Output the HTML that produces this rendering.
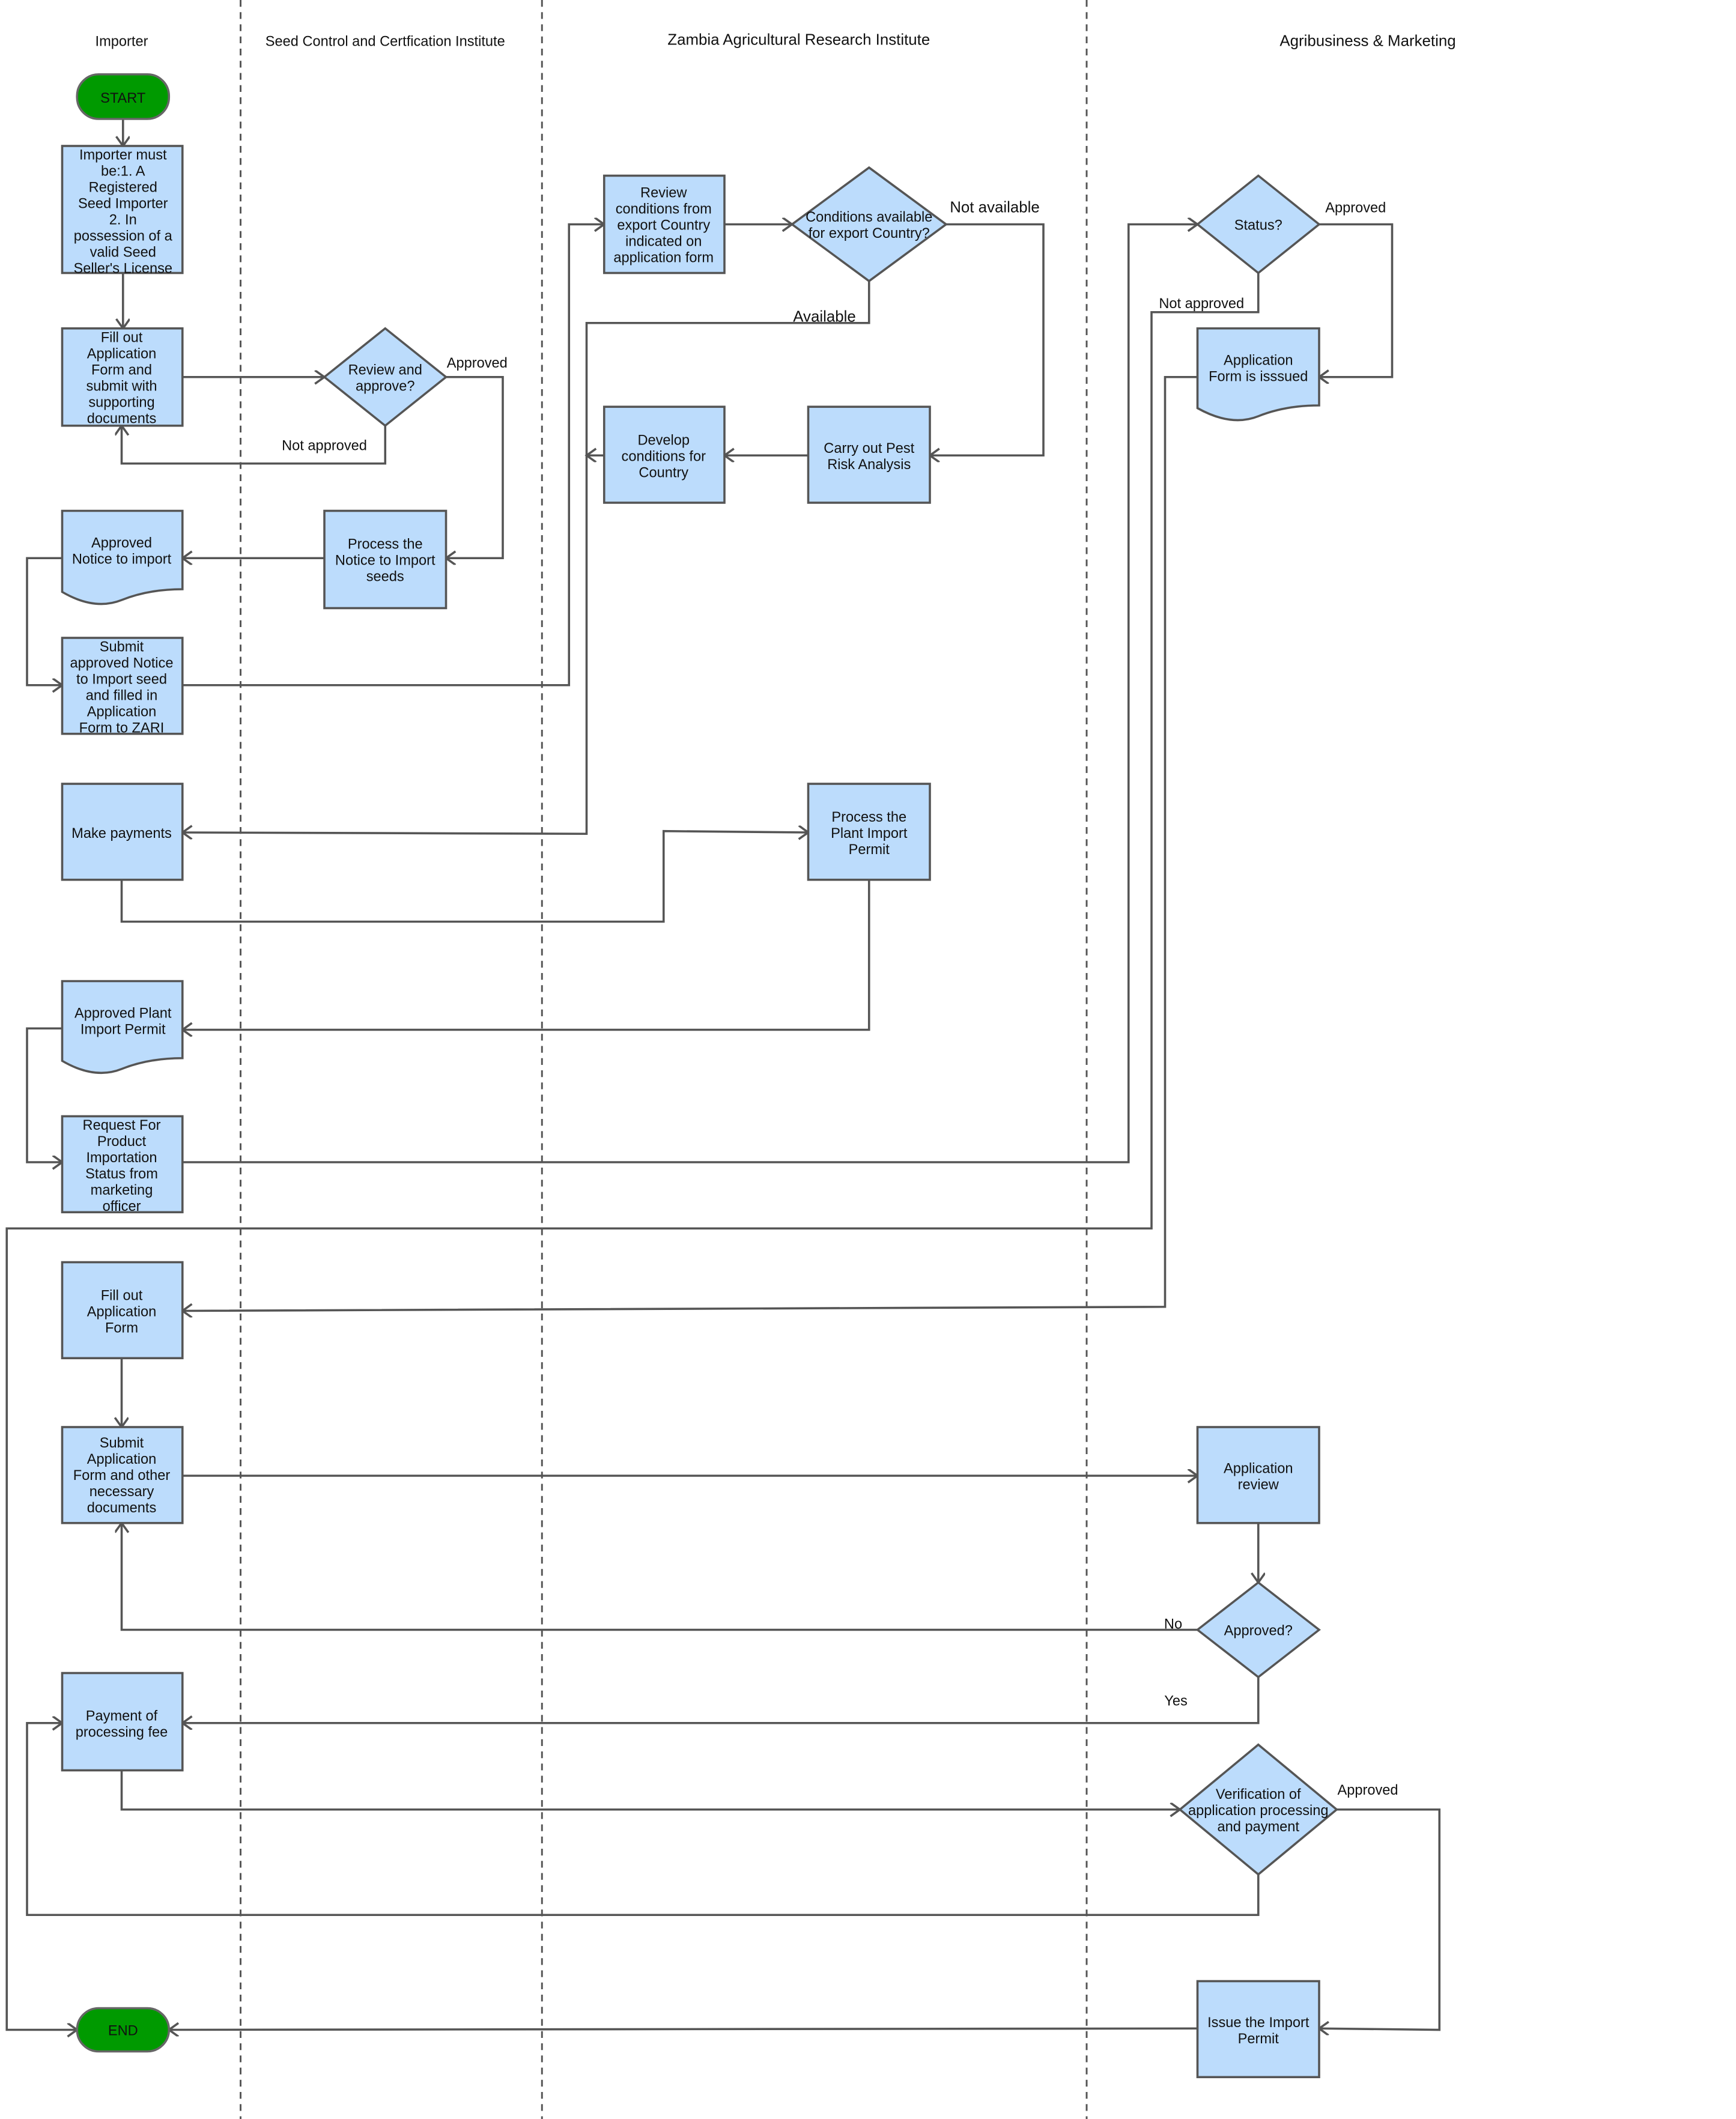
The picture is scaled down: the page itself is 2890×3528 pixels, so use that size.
<!DOCTYPE html>
<html><head><meta charset="utf-8"><style>
html,body{margin:0;padding:0;background:#fff;}
svg{display:block;}
text{font-family:"Liberation Sans",sans-serif;font-size:10.5px;fill:#111;}
.b{fill:#bcdcfc;stroke:#555;stroke-width:1.6;}
.t{fill:#009a00;stroke:#666;stroke-width:1.6;}
.l{fill:none;stroke:#555;stroke-width:1.6;}
.d{fill:none;stroke:#555;stroke-width:1.3;stroke-dasharray:5,4;}
</style></head><body>
<svg width="2890" height="3528" viewBox="0 0 1284.44 1568" xmlns="http://www.w3.org/2000/svg">
<defs><marker id="a" markerWidth="12" markerHeight="12" refX="9" refY="5" orient="auto" markerUnits="userSpaceOnUse"><polyline points="2,0 9,5 2,10" fill="none" stroke="#555" stroke-width="1.6"/></marker></defs>
<rect width="1284.44" height="1568" fill="#fff"/>
<line class="d" x1="178" y1="0" x2="178" y2="1568"/>
<line class="d" x1="401" y1="0" x2="401" y2="1568"/>
<line class="d" x1="804" y1="0" x2="804" y2="1568"/>
<g text-anchor="middle">
<text x="90" y="34">Importer</text>
<text x="285" y="34">Seed Control and Certfication Institute</text>
<text x="591" y="33" style="font-size:11.5px">Zambia Agricultural Research Institute</text>
<text x="1012" y="34" style="font-size:11.5px">Agribusiness &amp; Marketing</text>
</g>
<!-- connectors -->
<g class="l" marker-end="url(#a)">
<polyline points="91,88 91,108"/>
<polyline points="91,202 91,243"/>
<polyline points="135,279 240,279"/>
<polyline points="330,279 372,279 372,413 330,413"/>
<polyline points="285,315 285,343 90,343 90,315"/>
<polyline points="240,413 135,413"/>
<polyline points="46,413 20,413 20,507 46,507"/>
<polyline points="135,507 421,507 421,166 447,166"/>
<polyline points="536,166 586,166"/>
<polyline points="700,166 772,166 772,337 688,337"/>
<polyline points="643,208 643,239 434,239 434,617 135,616"/>
<polyline points="598,337 536,337"/>
<polyline points="447,337 434,337"/>
<polyline points="90,651 90,682 491,682 491,615 598,616"/>
<polyline points="643,651 643,762 135,762"/>
<polyline points="46,761 20,761 20,860 46,860"/>
<polyline points="135,860 835,860 835,166 886,166"/>
<polyline points="976,166 1030,166 1030,279 976,279"/>
<polyline points="931,202 931,231 852,231 852,909 5,909 5,1502 57,1502"/>
<polyline points="886,279 862,279 862,967 135,970"/>
<polyline points="90,1005 90,1056"/>
<polyline points="135,1092 886,1092"/>
<polyline points="931,1127 931,1171"/>
<polyline points="886,1206 90,1206 90,1127"/>
<polyline points="931,1241 931,1275 135,1275"/>
<polyline points="90,1310 90,1339 873,1339"/>
<polyline points="989,1339 1065,1339 1065,1502 976,1501"/>
<polyline points="931,1387 931,1417 20,1417 20,1275 46,1275"/>
<polyline points="886,1501 125,1502"/>
</g>
<!-- shapes -->
<rect class="t" x="57" y="55" width="68" height="33" rx="16"/>
<rect class="t" x="57" y="1486" width="68" height="32" rx="16"/>
<rect class="b" x="46" y="108" width="89" height="94"/>
<rect class="b" x="46" y="243" width="89" height="72"/>
<polygon class="b" points="285,243 330,279 285,315 240,279"/>
<rect class="b" x="240" y="378" width="90" height="72"/>
<path class="b" d="M46,378 H135 V436 Q110,436 90,444 Q70,452 46,438 Z"/>
<rect class="b" x="46" y="472" width="89" height="71"/>
<rect class="b" x="447" y="130" width="89" height="72"/>
<polygon class="b" points="643,124 700,166 643,208 586,166"/>
<rect class="b" x="447" y="301" width="89" height="71"/>
<rect class="b" x="598" y="301" width="90" height="71"/>
<rect class="b" x="46" y="580" width="89" height="71"/>
<rect class="b" x="598" y="580" width="90" height="71"/>
<path class="b" d="M46,726 H135 V783 Q110,783 90,791 Q70,799 46,785 Z"/>
<rect class="b" x="46" y="826" width="89" height="71"/>
<polygon class="b" points="931,130 976,166 931,202 886,166"/>
<path class="b" d="M886,243 H976 V300 Q951,300 931,308 Q911,316 886,302 Z"/>
<rect class="b" x="46" y="934" width="89" height="71"/>
<rect class="b" x="46" y="1056" width="89" height="71"/>
<rect class="b" x="886" y="1056" width="90" height="71"/>
<polygon class="b" points="931,1171 976,1206 931,1241 886,1206"/>
<rect class="b" x="46" y="1238" width="89" height="72"/>
<polygon class="b" points="931,1291 989,1339 931,1387 873,1339"/>
<rect class="b" x="886" y="1466" width="90" height="71"/>
<!-- labels -->
<g text-anchor="middle">
<text x="91" y="76">START</text>
<text x="91" y="1506">END</text>
<text x="91" y="118"><tspan x="91">Importer must</tspan><tspan x="91" dy="12">be:1. A</tspan><tspan x="91" dy="12">Registered</tspan><tspan x="91" dy="12">Seed Importer</tspan><tspan x="91" dy="12">2.  In</tspan><tspan x="91" dy="12">possession of a</tspan><tspan x="91" dy="12">valid Seed</tspan><tspan x="91" dy="12">Seller's License</tspan></text>
<text x="90" y="253"><tspan x="90">Fill out</tspan><tspan x="90" dy="12">Application</tspan><tspan x="90" dy="12">Form and</tspan><tspan x="90" dy="12">submit with</tspan><tspan x="90" dy="12">supporting</tspan><tspan x="90" dy="12">documents</tspan></text>
<text x="285" y="277"><tspan x="285">Review and</tspan><tspan x="285" dy="12">approve?</tspan></text>
<text x="285" y="406"><tspan x="285">Process the</tspan><tspan x="285" dy="12">Notice to Import</tspan><tspan x="285" dy="12">seeds</tspan></text>
<text x="90" y="405"><tspan x="90">Approved</tspan><tspan x="90" dy="12">Notice to import</tspan></text>
<text x="90" y="482"><tspan x="90">Submit</tspan><tspan x="90" dy="12">approved Notice</tspan><tspan x="90" dy="12">to Import seed</tspan><tspan x="90" dy="12">and filled in</tspan><tspan x="90" dy="12">Application</tspan><tspan x="90" dy="12">Form to ZARI</tspan></text>
<text x="491" y="146"><tspan x="491">Review</tspan><tspan x="491" dy="12">conditions from</tspan><tspan x="491" dy="12">export Country</tspan><tspan x="491" dy="12">indicated on</tspan><tspan x="491" dy="12">application form</tspan></text>
<text x="643" y="164"><tspan x="643">Conditions available</tspan><tspan x="643" dy="12">for export Country?</tspan></text>
<text x="491" y="329"><tspan x="491">Develop</tspan><tspan x="491" dy="12">conditions for</tspan><tspan x="491" dy="12">Country</tspan></text>
<text x="643" y="335"><tspan x="643">Carry out Pest</tspan><tspan x="643" dy="12">Risk Analysis</tspan></text>
<text x="90" y="620">Make payments</text>
<text x="643" y="608"><tspan x="643">Process the</tspan><tspan x="643" dy="12">Plant Import</tspan><tspan x="643" dy="12">Permit</tspan></text>
<text x="91" y="753"><tspan x="91">Approved Plant</tspan><tspan x="91" dy="12">Import Permit</tspan></text>
<text x="90" y="836"><tspan x="90">Request For</tspan><tspan x="90" dy="12">Product</tspan><tspan x="90" dy="12">Importation</tspan><tspan x="90" dy="12">Status from</tspan><tspan x="90" dy="12">marketing</tspan><tspan x="90" dy="12">officer</tspan></text>
<text x="931" y="170">Status?</text>
<text x="931" y="270"><tspan x="931">Application</tspan><tspan x="931" dy="12">Form is isssued</tspan></text>
<text x="90" y="962"><tspan x="90">Fill out</tspan><tspan x="90" dy="12">Application</tspan><tspan x="90" dy="12">Form</tspan></text>
<text x="90" y="1071"><tspan x="90">Submit</tspan><tspan x="90" dy="12">Application</tspan><tspan x="90" dy="12">Form and other</tspan><tspan x="90" dy="12">necessary</tspan><tspan x="90" dy="12">documents</tspan></text>
<text x="931" y="1090"><tspan x="931">Application</tspan><tspan x="931" dy="12">review</tspan></text>
<text x="931" y="1210">Approved?</text>
<text x="90" y="1273"><tspan x="90">Payment of</tspan><tspan x="90" dy="12">processing fee</tspan></text>
<text x="931" y="1331"><tspan x="931">Verification of</tspan><tspan x="931" dy="12">application processing</tspan><tspan x="931" dy="12">and payment</tspan></text>
<text x="931" y="1500"><tspan x="931">Issue the Import</tspan><tspan x="931" dy="12">Permit</tspan></text>
<text x="353" y="272">Approved</text>
<text x="240" y="333">Not approved</text>
<text x="736" y="157" style="font-size:11.5px">Not available</text>
<text x="610" y="238" style="font-size:11.5px">Available</text>
<text x="1003" y="157">Approved</text>
<text x="889" y="228">Not approved</text>
<text x="868" y="1205">No</text>
<text x="870" y="1262">Yes</text>
<text x="1012" y="1328">Approved</text>
</g>
</svg>
</body></html>
